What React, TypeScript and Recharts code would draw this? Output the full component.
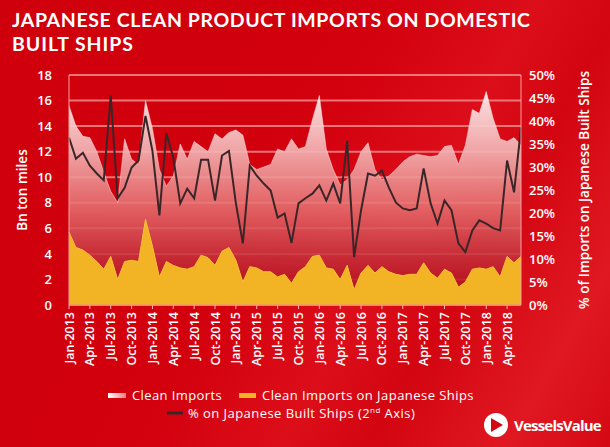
import React from 'react';
import { ComposedChart, Area, Line, XAxis, YAxis, CartesianGrid } from 'recharts';

const MONTHS = ['Jan', 'Feb', 'Mar', 'Apr', 'May', 'Jun', 'Jul', 'Aug', 'Sep', 'Oct', 'Nov', 'Dec'];
const YEARS = [2013, 2014, 2015, 2016, 2017, 2018];
// Jan-2013 .. Jun-2018
const CATEGORIES = YEARS.flatMap((y) => MONTHS.map((m) => `${m}-${y}`)).slice(0, 66);

// Bn ton miles
const CLEAN_IMPORTS = [
  15.6, 14.0, 13.2, 13.1, 12.0, 10.4, 8.9, 8.0, 13.0, 11.4, 11.0, 16.0,
  13.8, 10.6, 9.3, 10.1, 12.6, 11.4, 12.8, 12.4, 12.0, 13.4, 13.0, 13.5,
  13.7, 13.3, 11.0, 10.6, 10.8, 11.0, 12.2, 12.0, 13.0, 12.2, 12.4, 14.5,
  16.4, 12.2, 10.6, 9.4, 9.8, 10.6, 12.0, 12.7, 10.6, 9.8, 10.1, 10.6,
  11.2, 11.6, 11.8, 11.7, 11.6, 11.7, 12.4, 12.5, 11.0, 12.5, 15.3, 15.0,
  16.7, 14.6, 13.0, 12.8, 13.1, 12.5,
];
const JAPANESE_SHIPS = [
  5.7, 4.5, 4.3, 3.9, 3.4, 2.8, 3.8, 2.0, 3.4, 3.5, 3.4, 6.7,
  4.6, 2.2, 3.4, 3.1, 2.9, 2.8, 3.0, 3.9, 3.7, 3.1, 4.2, 4.5,
  3.5, 1.8, 3.0, 2.9, 2.6, 2.6, 2.2, 2.4, 1.7, 2.6, 3.0, 3.8,
  3.9, 2.9, 2.8, 2.0, 3.1, 1.2, 2.5, 3.1, 2.5, 3.0, 2.6, 2.4,
  2.3, 2.4, 2.4, 3.3, 2.5, 2.1, 2.8, 2.5, 1.4, 1.8, 2.8, 2.9,
  2.8, 3.0, 2.2, 3.8, 3.3, 3.8,
];
// % on Japanese built ships (2nd axis)
const PCT_JAPANESE_BUILT = [
  36.4, 31.8, 33.1, 30.3, 28.6, 27.1, 45.5, 23.2, 25.5, 29.9, 31.4, 41.1,
  33.5, 19.5, 37.4, 32.0, 22.1, 25.3, 23.2, 31.6, 31.6, 22.7, 32.5, 33.5,
  22.1, 13.4, 30.3, 28.1, 26.4, 24.9, 19.0, 19.9, 13.5, 22.1, 23.2, 24.2,
  26.0, 22.7, 26.4, 22.1, 35.7, 10.4, 20.6, 28.6, 28.1, 29.2, 25.5, 22.3,
  21.0, 20.6, 21.0, 29.7, 22.1, 17.7, 22.7, 20.6, 13.4, 11.5, 16.2, 18.4,
  17.7, 16.7, 16.2, 31.4, 24.5, 38.5,
];

const LEFT_TICKS = [0, 2, 4, 6, 8, 10, 12, 14, 16, 18];
const RIGHT_TICKS = [0, 5, 10, 15, 20, 25, 30, 35, 40, 45, 50];

const data = CATEGORIES.map((month, i) => ({
  month,
  clean: CLEAN_IMPORTS[i],
  japanese: JAPANESE_SHIPS[i],
  pct: PCT_JAPANESE_BUILT[i],
}));

const FONT = '"Open Sans", sans-serif';
const YELLOW = '#f2b324';
const LINE_COLOR = '#3a2628';

const MonthTick = (props: any) => {
  const { x, y, payload } = props;
  return (
    <text
      x={x}
      y={y}
      transform={`rotate(-90 ${x} ${y})`}
      textAnchor="end"
      dominantBaseline="central"
      fill="#fff"
      fontSize={12.5}
      fontWeight={600}
      fontFamily={FONT}
    >
      {payload.value}
    </text>
  );
};

export default function App() {
  return (
    <div
      style={{
        position: 'absolute',
        left: 0,
        top: 0,
        width: 610,
        height: 447,
        overflow: 'hidden',
        fontFamily: FONT,
        background:
          'linear-gradient(120deg, #cf000c 0%, #d3000e 45%, #dc0e1a 62%, #d20510 72%, #e01822 88%, #d40812 100%)',
      }}
    >
      <div style={{ position: 'absolute', left: 0, top: 0 }}>
        <ComposedChart
          width={610}
          height={447}
          data={data}
          margin={{ top: 75, right: 0, bottom: 62, left: 0 }}
        >
          <defs>
            <linearGradient id="cleanFill" x1="0" y1="0" x2="0" y2="1">
              <stop offset="0%" stopColor="#fdeeee" stopOpacity={0.95} />
              <stop offset="30%" stopColor="#f2b0b0" stopOpacity={0.9} />
              <stop offset="55%" stopColor="#e57070" stopOpacity={0.85} />
              <stop offset="78%" stopColor="#c4303a" stopOpacity={0.85} />
              <stop offset="100%" stopColor="#a8000e" stopOpacity={0.9} />
            </linearGradient>
          </defs>
          <CartesianGrid
            vertical={false}
            stroke="#f08a8a"
            strokeWidth={2}
            strokeOpacity={0.85}
            yAxisId="left"
          />
          <XAxis
            dataKey="month"
            interval={2}
            height={80}
            tick={<MonthTick />}
            tickSize={4}
            tickMargin={3}
            tickLine={{ stroke: '#f5b0b0' }}
            axisLine={{ stroke: '#f08a8a', strokeWidth: 1 }}
          />
          <YAxis
            yAxisId="left"
            width={69}
            domain={[0, 18]}
            ticks={LEFT_TICKS}
            tickLine={false}
            tickSize={0}
            tickMargin={17}
            axisLine={{ stroke: '#f5a0a0', strokeWidth: 1 }}
            tick={{ fill: '#fff', fontSize: 13, fontFamily: FONT, fontWeight: 600 }}
          />
          <YAxis
            yAxisId="right"
            orientation="right"
            width={89}
            domain={[0, 50]}
            ticks={RIGHT_TICKS}
            tickFormatter={(v: number) => `${v}%`}
            tickLine={false}
            tickSize={0}
            tickMargin={8}
            axisLine={{ stroke: '#f5a0a0', strokeWidth: 1 }}
            tick={{ fill: '#fff', fontSize: 13, fontFamily: FONT, fontWeight: 600 }}
          />
          <Area
            yAxisId="left"
            type="linear"
            dataKey="clean"
            stroke="#fbe0e0"
            strokeWidth={0.5}
            fill="url(#cleanFill)"
            fillOpacity={1}
            isAnimationActive={false}
          />
          <Area
            yAxisId="left"
            type="linear"
            dataKey="japanese"
            stroke="#f7c23a"
            strokeWidth={1}
            fill={YELLOW}
            fillOpacity={1}
            isAnimationActive={false}
          />
          <Line
            yAxisId="right"
            type="linear"
            dataKey="pct"
            stroke={LINE_COLOR}
            strokeWidth={2}
            dot={false}
            isAnimationActive={false}
          />
        </ComposedChart>
      </div>

      <svg
        width={610}
        height={447}
        style={{ position: 'absolute', left: 0, top: 0, pointerEvents: 'none' }}
      >
        <defs>
          <linearGradient id="legendClean" x1="0" y1="0" x2="1" y2="0">
            <stop offset="0%" stopColor="#ffffff" />
            <stop offset="100%" stopColor="#e88080" />
          </linearGradient>
        </defs>
        <g fill="#fff" fontFamily="Lato, sans-serif" fontWeight={700} fontSize={19.5}>
          <text x={12} y={27} textLength={518} lengthAdjust="spacing">
            JAPANESE CLEAN PRODUCT IMPORTS ON DOMESTIC
          </text>
          <text x={12} y={50.5} textLength={121} lengthAdjust="spacing">
            BUILT SHIPS
          </text>
        </g>
        <text
          x={22}
          y={190}
          transform="rotate(-90 22 190)"
          textAnchor="middle"
          dominantBaseline="central"
          fill="#fff"
          fontSize={13.5}
          fontWeight={600}
          fontFamily={FONT}
        >
          Bn ton miles
        </text>
        <text
          x={584}
          y={190}
          transform="rotate(-90 584 190)"
          textAnchor="middle"
          dominantBaseline="central"
          fill="#fff"
          fontSize={13.5}
          fontWeight={600}
          fontFamily={FONT}
        >
          % of Imports on Japanese Built Ships
        </text>

        {/* legend */}
        <rect x={108} y={393} width={18} height={5} fill="url(#legendClean)" />
        <text x={132} y={399.5} fill="#fff" fontSize={13} letterSpacing={0.4} fontFamily={FONT}>
          Clean Imports
        </text>
        <rect x={239} y={393} width={17} height={5} fill={YELLOW} />
        <text x={262} y={399.5} fill="#fff" fontSize={13} letterSpacing={0.45} fontFamily={FONT}>
          Clean Imports on Japanese Ships
        </text>
        <line x1={167} y1={413} x2={183} y2={413} stroke={LINE_COLOR} strokeWidth={3} />
        <text x={188} y={417.5} fill="#fff" fontSize={13} letterSpacing={0.45} fontFamily={FONT}>
          % on Japanese Built Ships (2
          <tspan fontSize={8} dy={-5}>nd</tspan>
          <tspan dy={5}> Axis)</tspan>
        </text>

        {/* logo */}
        <circle cx={496} cy={425} r={12} fill="#fff" />
        <path d="M491 418 L503 425 L491 432 Z" fill="#d40812" />
        <text
          x={514}
          y={431}
          fill="#fff"
          fontSize={15}
          fontWeight={700}
          letterSpacing={-0.8}
          fontFamily={FONT}
        >
          VesselsValue
        </text>
      </svg>
    </div>
  );
}
